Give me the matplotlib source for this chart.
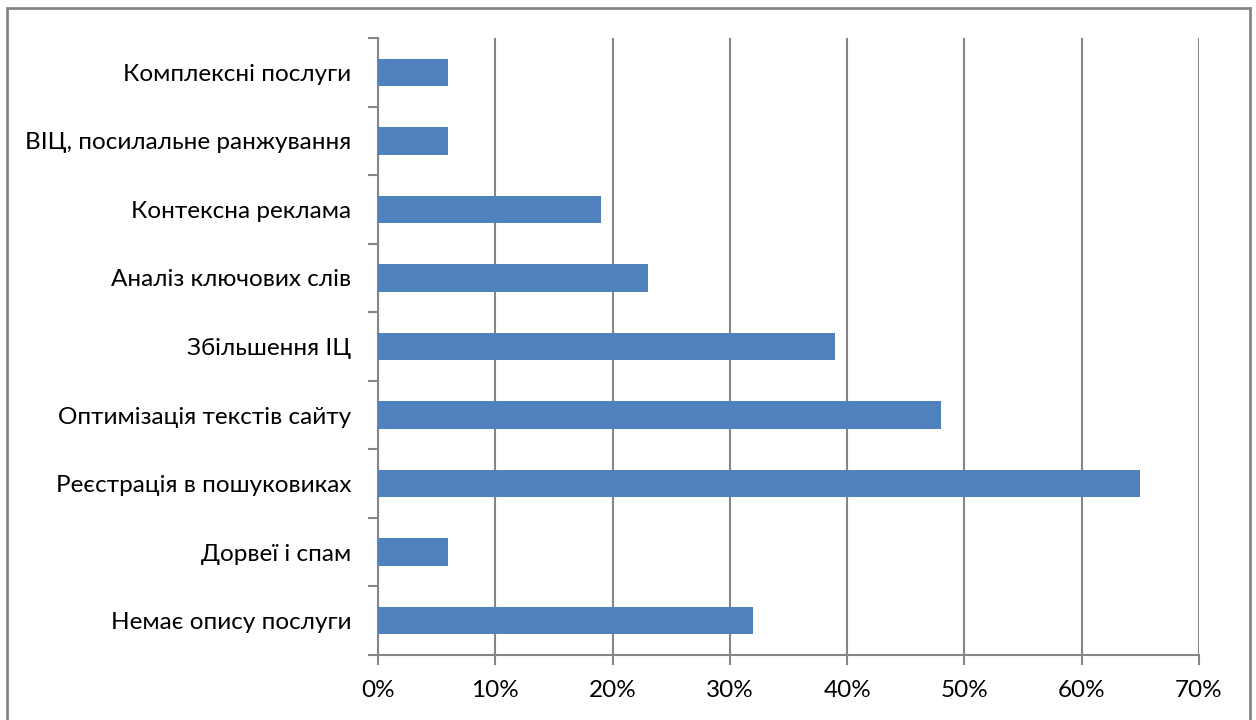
import matplotlib
matplotlib.use("Agg")
import matplotlib.pyplot as plt
from matplotlib.patches import Rectangle
from matplotlib.ticker import PercentFormatter, FixedLocator

plt.rcParams['font.family'] = ['Lato', 'DejaVu Sans']

# Дані (знизу вгору, як на діаграмі)
categories = [
    "Немає опису послуги",
    "Дорвеї і спам",
    "Реєстрація в пошуковиках",
    "Оптимізація текстів сайту",
    "Збільшення ІЦ",
    "Аналіз ключових слів",
    "Контексна реклама",
    "ВІЦ, посилальне ранжування",
    "Комплексні послуги",
]
values = [32, 6, 65, 48, 39, 23, 19, 6, 6]
x_ticks = [0, 10, 20, 30, 40, 50, 60, 70]

grid_col = "#868686"
bar_col = "#4F81BD"

fig = plt.figure(figsize=(12.56, 7.2), dpi=100)
ax = fig.add_axes([378 / 1256, 1 - 655 / 720, (1199 - 378) / 1256, (655 - 38) / 720])

ax.barh(range(len(categories)), values, height=0.4, color=bar_col, zorder=3)

ax.set_xlim(0, 70)
ax.set_ylim(-0.5, len(categories) - 0.5)
ax.set_xticks(x_ticks)
ax.xaxis.set_major_formatter(PercentFormatter(decimals=0))
ax.set_yticks(range(len(categories)))
ax.set_yticklabels(categories)
ax.yaxis.set_major_locator(FixedLocator(range(len(categories))))
# позначки між категоріями
ax.set_yticks([i - 0.5 for i in range(len(categories) + 1)], minor=True)
ax.tick_params(axis='y', which='major', length=0, pad=19, labelsize=17.5)
ax.tick_params(axis='y', which='minor', length=7, width=1.5, color=grid_col)
ax.tick_params(axis='x', length=7, width=1.5, color=grid_col, pad=11, labelsize=17.5)

ax.grid(axis='x', color=grid_col, linewidth=1.5, zorder=0)
for s in ['top', 'right']:
    ax.spines[s].set_visible(False)
for s in ['left', 'bottom']:
    ax.spines[s].set_color(grid_col)
    ax.spines[s].set_linewidth(1.5)

# рамка навколо діаграми
fig.patches.append(Rectangle((7 / 1256, -0.01), (1250 - 7) / 1256, 1 - 8 / 720 + 0.01,
                             transform=fig.transFigure, fill=False,
                             edgecolor=grid_col, linewidth=2))

fig.savefig("out.png", dpi=100)
